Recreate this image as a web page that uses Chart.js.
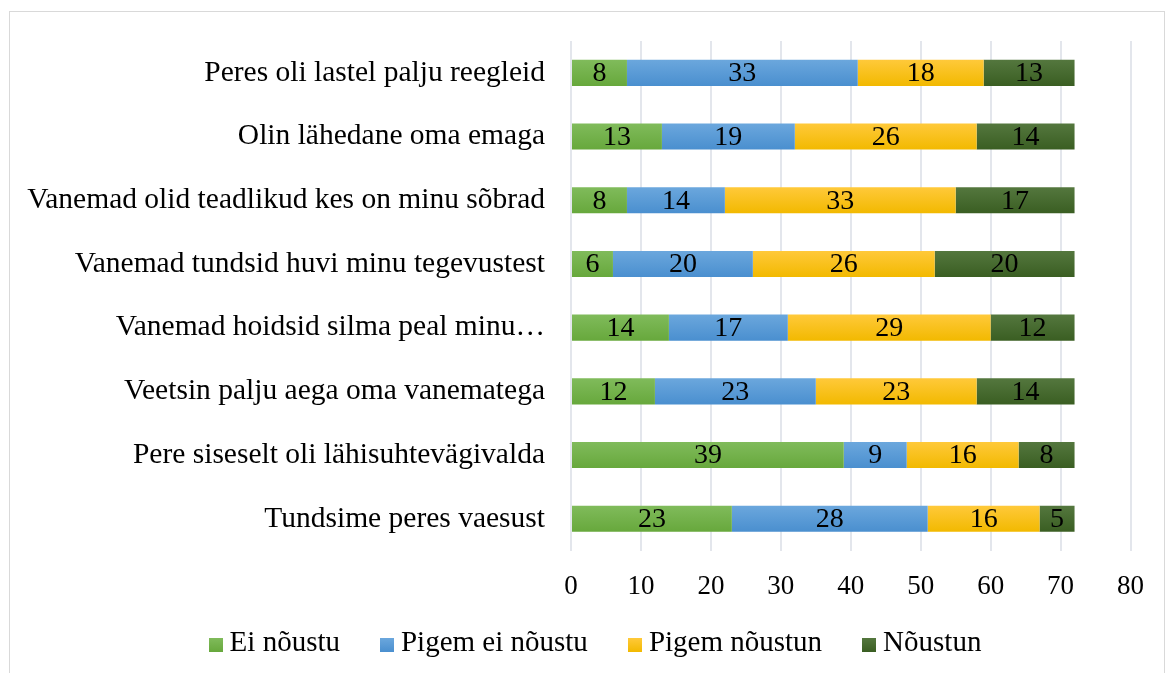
<!DOCTYPE html>
<html>
<head>
<meta charset="utf-8">
<script src="https://cdn.jsdelivr.net/npm/chart.js@4"></script>
<style>
  html, body { margin: 0; padding: 0; background: #fff; overflow: hidden; }
  #frame {
    position: absolute; left: 9px; top: 11px;
    width: 1154px; height: 670px;
    border: 1px solid #d9d9d9;
  }
  #chart { display: block; }
  #legend {
    position: absolute; left: 0; top: 611px; width: 100%;
    box-sizing: border-box; padding-left: 16px;
    text-align: center; white-space: nowrap;
    font-family: 'Liberation Serif', 'Times New Roman', serif;
    font-size: 29px; line-height: 36px; color: #000;
  }
  #legend .item { display: inline-block; margin: 0 20px; }
  #legend .box { display: inline-block; width: 14px; height: 14px; margin-right: 7px; vertical-align: -1px; }
</style>
</head>
<body>
<div id="frame">
  <canvas id="chart" width="1154" height="621"></canvas>
  <div id="legend"></div>
</div>
<script>
// ---- data ----
const categories = [
  "Peres oli lastel palju reegleid",
  "Olin lähedane oma emaga",
  "Vanemad olid teadlikud kes on minu sõbrad",
  "Vanemad tundsid huvi minu tegevustest",
  "Vanemad hoidsid silma peal minu…",
  "Veetsin palju aega oma vanematega",
  "Pere siseselt oli lähisuhtevägivalda",
  "Tundsime peres vaesust"
];
const seriesNames = ["Ei nõustu", "Pigem ei nõustu", "Pigem nõustun", "Nõustun"];
const eiNoustu      = [8, 13, 8, 6, 14, 12, 39, 23];
const pigemEiNoustu = [33, 19, 14, 20, 17, 23, 9, 28];
const pigemNoustun  = [18, 26, 33, 26, 29, 23, 16, 16];
const noustun       = [13, 14, 17, 20, 12, 14, 8, 5];
const xTicks = [0, 10, 20, 30, 40, 50, 60, 70, 80];

// [top, bottom] of the office-style gradient fill
const colors = [["#80bb5b", "#67a83c"], ["#6ba7dd", "#4a8fcf"], ["#ffc93a", "#f2b900"], ["#54773e", "#3a5e22"]];
const FONT = "'Liberation Serif', 'Times New Roman', serif";

// gradient per bar, using the y scale to find the bar's band
function barFill(i) {
  return (c) => {
    const chart = c.chart;
    const ys = chart.scales.y;
    if (!chart.chartArea || !ys || c.dataIndex === undefined) return colors[i][1];
    const mid = ys.getPixelForValue(c.dataIndex);
    const half = 13;
    const g = chart.ctx.createLinearGradient(0, mid - half, 0, mid + half);
    g.addColorStop(0, colors[i][0]);
    g.addColorStop(1, colors[i][1]);
    return g;
  };
}

// draw the value inside each bar segment
const valueLabels = {
  id: 'valueLabels',
  afterDatasetsDraw(chart) {
    const ctx = chart.ctx;
    ctx.save();
    ctx.font = "28px " + FONT;
    ctx.fillStyle = "#000";
    ctx.textAlign = "center";
    ctx.textBaseline = "middle";
    chart.data.datasets.forEach((ds, i) => {
      chart.getDatasetMeta(i).data.forEach((bar, j) => {
        const x = (bar.x + bar.base) / 2;
        ctx.fillText(ds.data[j], x, bar.y + 1);
      });
    });
    ctx.restore();
  }
};

const allSeries = [eiNoustu, pigemEiNoustu, pigemNoustun, noustun];

const chart = new Chart(document.getElementById('chart'), {
  type: 'bar',
  data: {
    labels: categories,
    datasets: allSeries.map((d, i) => ({
      label: seriesNames[i],
      data: d,
      backgroundColor: barFill(i),
      borderWidth: 0,
      barPercentage: 0.41,
      categoryPercentage: 1
    }))
  },
  options: {
    indexAxis: 'y',
    responsive: false,
    animation: false,
    layout: { padding: { top: 29, right: 29, left: 0, bottom: 10 } },
    scales: {
      x: {
        stacked: true,
        min: 0, max: 80,
        afterBuildTicks: s => { s.ticks = xTicks.map(v => ({ value: v })); },
        grid: { color: "#e3e6ec", lineWidth: 2, drawTicks: false },
        border: { display: false },
        ticks: { color: "#000", font: { family: FONT, size: 27 }, padding: 20 }
      },
      y: {
        stacked: true,
        grid: { display: false },
        border: { display: false },
        afterFit: s => { s.width = 561; s.paddingTop = 0; s.paddingBottom = 0; },
        ticks: { color: "#000", font: { family: FONT, size: 29.5 }, padding: 18 }
      }
    },
    plugins: {
      legend: { display: false },
      tooltip: { enabled: false }
    }
  },
  plugins: [valueLabels]
});

// legend below the chart, built from the same series
const legendEl = document.getElementById('legend');
seriesNames.forEach((name, i) => {
  const item = document.createElement('span');
  item.className = 'item';
  item.innerHTML = `<span class="box" style="background:linear-gradient(${colors[i][0]}, ${colors[i][1]})"></span>${name}`;
  legendEl.appendChild(item);
});
</script>
</body>
</html>
